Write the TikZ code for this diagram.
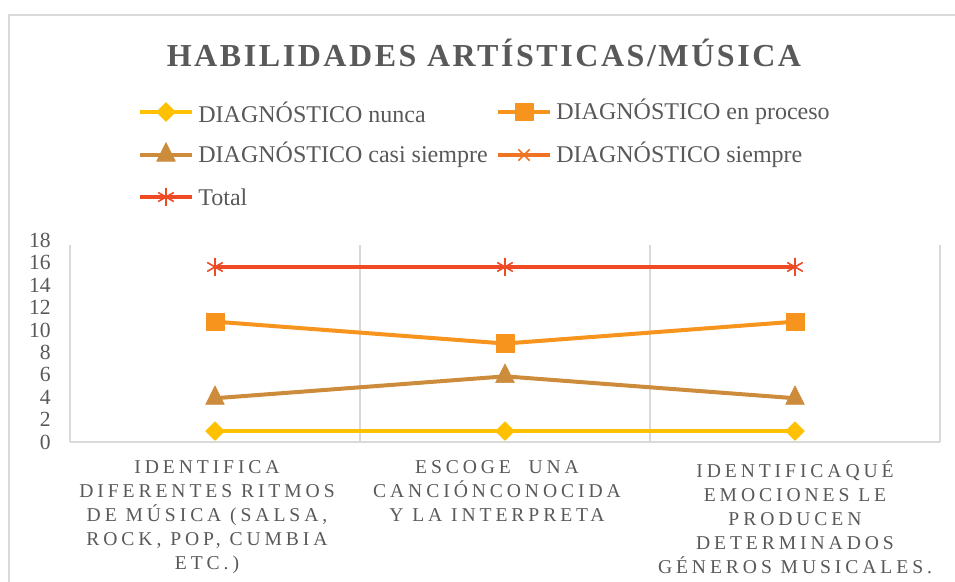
\documentclass[tikz,border=0pt]{standalone}
\usepackage{fontspec}
\setmainfont{Liberation Serif}
\newfontfamily\titlefont[LetterSpace=8]{Liberation Serif}
\newfontfamily\catfont[LetterSpace=20]{Liberation Serif}
\usetikzlibrary{plotmarks}

\definecolor{txtgray}{HTML}{595959}
\definecolor{gridgray}{HTML}{D9D9D9}
\definecolor{cnunca}{HTML}{FFC000}
\definecolor{cproceso}{HTML}{F7941E}
\definecolor{ccasi}{HTML}{CD8B3C}
\definecolor{csiempre}{HTML}{EE7322}
\definecolor{ctotal}{HTML}{EE4B24}

\tikzset{
  series/.style={line width=2pt, line cap=butt, line join=round},
  nunca/.style={series, draw=cnunca, mark=square*, mark size=3.3pt,
    mark options={rotate=45, fill=cnunca, draw=cnunca, line width=0.3pt}},
  proceso/.style={series, draw=cproceso, mark=square*, mark size=4.4pt,
    mark options={fill=cproceso, draw=cproceso, line width=0.3pt}},
  casi/.style={series, draw=ccasi, mark=triangle*, mark size=5.4pt,
    mark options={yscale=1.15, fill=ccasi, draw=ccasi, line width=0.3pt}},
  siempre/.style={series, draw=csiempre, mark=x, mark size=4pt,
    mark options={draw=csiempre, line width=0.8pt}},
  total/.style={series, draw=ctotal, mark=asterisk, mark size=4.5pt,
    mark options={draw=ctotal, line width=0.8pt}},
  gridline/.style={draw=gridgray, line width=0.75pt},
  ticklbl/.style={anchor=east, inner sep=0pt, text=txtgray, font=\fontsize{10.8}{12}\selectfont},
  legtext/.style={anchor=west, inner sep=0pt, text=txtgray, font=\fontsize{12}{14}\selectfont},
  catlbl/.style={anchor=north, align=center, inner sep=0pt, text=txtgray,
    font=\catfont\fontsize{9.8}{12}\selectfont}
}

\begin{document}
\begin{tikzpicture}[x=0.5pt, y=-0.5pt]
  \useasboundingbox (0,0) rectangle (955,582);
  \clip (0,0) rectangle (955,582);
  % chart frame
  \draw[gridline, line width=1pt] (9,15) rectangle (1000,640);
  % title
  \node[text=txtgray, font=\titlefont\bfseries\fontsize{16}{19}\selectfont] (title) at (484,53)
    {HABILIDADES ARTÍSTICAS/MÚSICA};
  % legend
  \foreach \s/\x/\y/\lbl in {nunca/140/112/DIAGNÓSTICO nunca, proceso/498/112/DIAGNÓSTICO en proceso,
      casi/140/155/DIAGNÓSTICO casi siempre, siempre/498/155/DIAGNÓSTICO siempre, total/140/197/Total} {
    \draw[\s, mark indices={2}] plot coordinates {(\x,\y) (\x+26,\y) (\x+52,\y)};
    \node[legtext] (leg-\s) at (\x+58,\y) {\lbl};
  }
  % grid and axis
  \foreach \x in {70,360,650,940} {
    \draw[gridline] (\x,245) -- (\x,442);
  }
  \draw[gridline] (70,442) -- (940,442);
  \foreach \v in {0,2,...,18} {
    \node[ticklbl] (y\v) at (51,{442-11.2*\v}) {\v};
  }
  % data
  \begin{scope}[shift={(0,442)}, y=5.47pt]
    \draw[nunca] plot coordinates {(215,1) (505,1) (795,1)};
    \draw[casi] plot coordinates {(215,4) (505,6) (795,4)};
    \draw[proceso] plot coordinates {(215,11) (505,9) (795,11)};
    \draw[total] plot coordinates {(215,16) (505,16) (795,16)};
  \end{scope}
  % category labels
  \node[catlbl] (cat1) at (207,460)
    {IDENTIFICA\\DIFERENTES RITMOS\\DE MÚSICA (SALSA,\\ROCK, POP, CUMBIA\\ETC.)};
  \node[catlbl] (cat2) at (497,460)
    {ESCOGE\ \ UNA\\CANCIÓNCONOCIDA\\Y LA INTERPRETA};
  \node[catlbl] (cat3) at (795,460)
    {IDENTIFICAQUÉ\\EMOCIONES LE\\PRODUCEN\\DETERMINADOS\\GÉNEROS MUSICALES.};
\end{tikzpicture}
\end{document}
